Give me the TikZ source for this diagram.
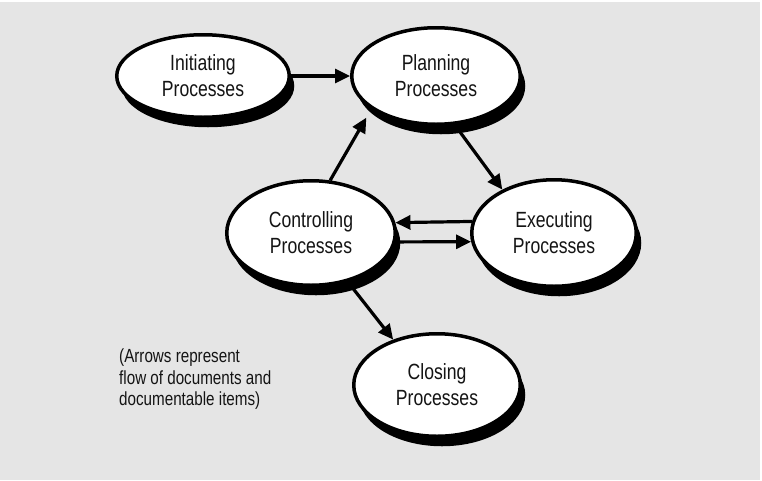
\documentclass[tikz,border=0pt]{standalone}
\usepackage{fontspec}
\setmainfont{Liberation Sans}[FakeStretch=0.8]
\usetikzlibrary{shapes.geometric,arrows.meta,shadows}
\definecolor{bg}{RGB}{229,229,229}
\definecolor{ink}{RGB}{20,20,20}
\begin{document}
\begin{tikzpicture}[x=1pt,y=1pt,
  proc/.style={ellipse, draw=black, line width=3.5pt, fill=white, inner sep=0pt,
    align=center, font=\fontsize{22}{26}\selectfont, text=ink,
    drop shadow={shadow xshift=5pt, shadow yshift=-10pt, fill=black, opacity=1}},
  flow/.style={line width=3.2pt, -{Triangle[length=15pt,width=14pt]}},
  note/.style={anchor=north west, inner sep=0pt, align=left,
    font=\fontsize{19}{21.5}\selectfont, text=ink}
]
\useasboundingbox (0,0) rectangle (762,-480);
\fill[white] (0,0) rectangle (762,-480);
\fill[bg] (0,-1.5) rectangle (760,-480);

\node[proc, minimum width=172.5pt, minimum height=82.5pt] (init) at (203,-76) {Initiating\\Processes};
\node[proc, minimum width=168.5pt, minimum height=96.5pt] (plan) at (436,-76) {Planning\\Processes};
\node[proc, minimum width=168.5pt, minimum height=104.5pt] (ctrl) at (311,-233) {Controlling\\Processes};
\node[proc, minimum width=164.5pt, minimum height=106.5pt] (exec) at (554,-233) {Executing\\Processes};
\node[proc, minimum width=166.5pt, minimum height=102.5pt] (close) at (437,-385) {Closing\\Processes};

\draw[flow] (init.east) -- (plan.west);
\draw[flow, shorten >=10pt] (ctrl.70.9) -- (plan.207.7);
\draw[flow] (plan.291) -- (exec.140.6);
\draw[flow] (exec.172.4) -- (ctrl.7.4);
\draw[flow] (ctrl.-6.06) -- (exec.186.2);
\draw[flow] (ctrl.307.2) -- (close.134.4);

\node[note] (legend) at (119,-349) {(Arrows represent\\flow of documents and\\documentable items)};
\end{tikzpicture}
\end{document}
